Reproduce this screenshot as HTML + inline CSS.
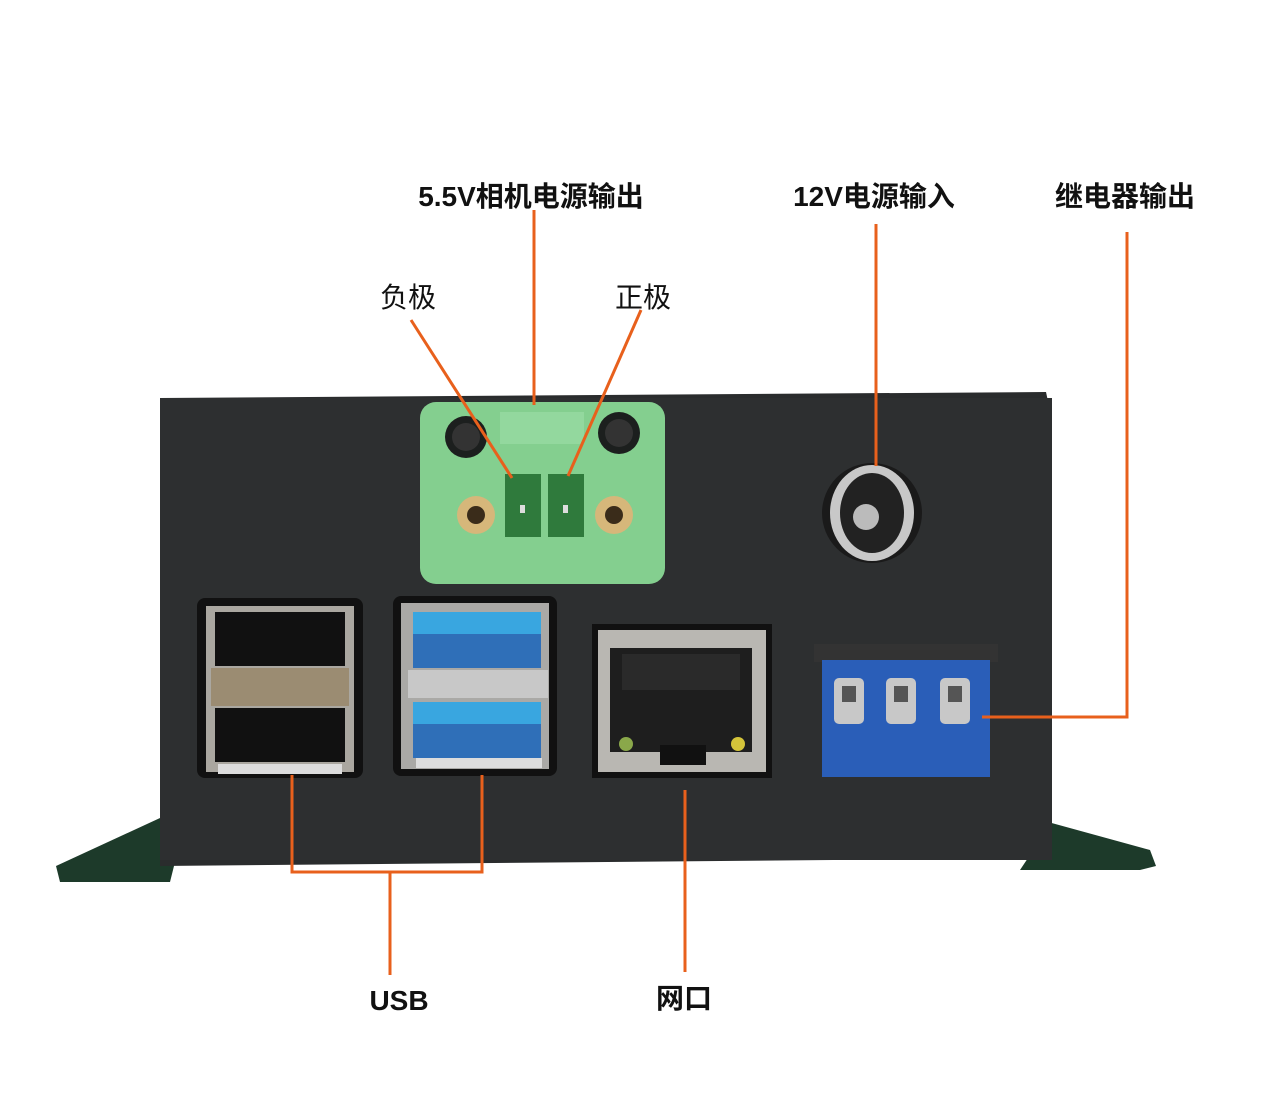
<!DOCTYPE html>
<html><head><meta charset="utf-8"><style>
html,body{margin:0;padding:0;background:#fff;width:1267px;height:1108px;overflow:hidden}
svg{display:block}
text{font-family:"Liberation Sans","Noto Sans CJK SC",sans-serif;fill:#111}
.b{font-weight:bold;font-size:28px}
.n{font-size:28px}
</style></head><body>
<svg width="1267" height="1108" viewBox="0 0 1267 1108" xmlns="http://www.w3.org/2000/svg">
<polygon points="56,866 160,818 175,862 170,882 60,882" fill="#1d3a2a"/>
<polygon points="1048,822 1150,850 1156,866 1140,870 1020,870 1040,840" fill="#1d3a2a"/>
<polygon points="160,398 1046,392 1052,420 1052,858 160,866" fill="#2a2c2d"/>
<rect x="160" y="398" width="892" height="462" fill="#2d2f30"/>
<rect x="420" y="402" width="245" height="182" rx="16" fill="#84cf8f"/>
<rect x="500" y="412" width="84" height="32" fill="#93d89e"/>
<circle cx="466" cy="437" r="21" fill="#1c1f1e"/><circle cx="466" cy="437" r="14" fill="#333"/>
<circle cx="619" cy="433" r="21" fill="#1c1f1e"/><circle cx="619" cy="433" r="14" fill="#333"/>
<circle cx="476" cy="515" r="19" fill="#d6b77a"/><circle cx="476" cy="515" r="9" fill="#3a2c1a"/>
<circle cx="614" cy="515" r="19" fill="#d6b77a"/><circle cx="614" cy="515" r="9" fill="#3a2c1a"/>
<rect x="505" y="474" width="36" height="63" fill="#2f7a3c"/>
<rect x="548" y="474" width="36" height="63" fill="#2f7a3c"/>
<rect x="520" y="505" width="5" height="8" fill="#ddd"/><rect x="563" y="505" width="5" height="8" fill="#ddd"/>
<circle cx="872" cy="513" r="50" fill="#1a1a1a"/>
<ellipse cx="872" cy="513" rx="42" ry="48" fill="#c8c8c8"/>
<ellipse cx="872" cy="513" rx="32" ry="40" fill="#222"/>
<circle cx="866" cy="517" r="13" fill="#bbb"/>
<rect x="197" y="598" width="166" height="180" rx="8" fill="#111"/>
<rect x="206" y="606" width="148" height="166" fill="#aaa7a0"/>
<rect x="215" y="612" width="130" height="54" fill="#111"/>
<rect x="211" y="668" width="138" height="38" fill="#9b8c72"/>
<rect x="215" y="708" width="130" height="54" fill="#111"/>
<rect x="218" y="764" width="124" height="10" fill="#ddd"/>
<rect x="393" y="596" width="164" height="180" rx="8" fill="#111"/>
<rect x="401" y="603" width="148" height="166" fill="#aaa9a6"/>
<rect x="413" y="612" width="128" height="56" fill="#2f6fb8"/><rect x="413" y="612" width="128" height="22" fill="#39a6e0"/>
<rect x="408" y="670" width="140" height="28" fill="#c8c8c8"/>
<rect x="413" y="702" width="128" height="56" fill="#2f6fb8"/><rect x="413" y="702" width="128" height="22" fill="#39a6e0"/>
<rect x="416" y="758" width="126" height="10" fill="#ddd"/>
<rect x="592" y="624" width="180" height="154" fill="#111"/>
<rect x="598" y="630" width="168" height="142" fill="#b9b7b2"/>
<rect x="610" y="648" width="142" height="104" fill="#1e1e1e"/>
<rect x="622" y="654" width="118" height="36" fill="#2a2a2a"/>
<rect x="660" y="745" width="46" height="20" fill="#111"/>
<circle cx="626" cy="744" r="7" fill="#8aa84a"/><circle cx="738" cy="744" r="7" fill="#d4c43a"/>
<rect x="814" y="644" width="184" height="18" fill="#333"/>
<rect x="822" y="660" width="168" height="117" fill="#2a5eb8"/>
<rect x="834" y="678" width="30" height="46" rx="5" fill="#c8c8c8"/><rect x="842" y="686" width="14" height="16" fill="#555"/>
<rect x="886" y="678" width="30" height="46" rx="5" fill="#c8c8c8"/><rect x="894" y="686" width="14" height="16" fill="#555"/>
<rect x="940" y="678" width="30" height="46" rx="5" fill="#c8c8c8"/><rect x="948" y="686" width="14" height="16" fill="#555"/>
<g stroke="#e8601c" stroke-width="3" fill="none">
<line x1="534" y1="210" x2="534" y2="405"/>
<line x1="411" y1="320" x2="512" y2="478"/>
<line x1="641" y1="310" x2="568" y2="476"/>
<line x1="876" y1="224" x2="876" y2="466"/>
<polyline points="1127,232 1127,717 982,717"/>
<polyline points="292,775 292,872 482,872 482,775"/>
<line x1="390" y1="872" x2="390" y2="975"/>
<line x1="685" y1="790" x2="685" y2="972"/>
</g>
<text class="b" x="531" y="206" text-anchor="middle">5.5V相机电源输出</text>
<text class="b" x="874" y="206" text-anchor="middle">12V电源输入</text>
<text class="b" x="1125" y="206" text-anchor="middle">继电器输出</text>
<text class="n" x="408" y="307" text-anchor="middle">负极</text>
<text class="n" x="643" y="307" text-anchor="middle">正极</text>
<text class="b" x="399" y="1010" text-anchor="middle">USB</text>
<text class="b" x="684" y="1008" text-anchor="middle">网口</text>
</svg>
</body></html>
